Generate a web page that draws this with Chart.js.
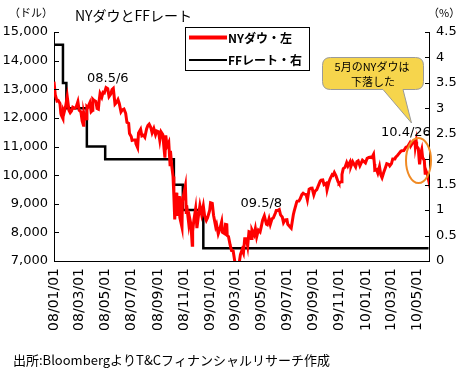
<!DOCTYPE html>
<html lang="ja">
<head>
<meta charset="UTF-8">
<title>NYダウとFFレート</title>
<script src="https://cdn.jsdelivr.net/npm/chart.js"></script>
<style>
  body { margin: 0; background: #fff; }
  #wrap { width: 461px; height: 375px; }
</style>
</head>
<body>
<div id="wrap"><canvas id="chart" width="461" height="375"></canvas></div>
<script>
// x axis ticks (every other month)
const tickDates = ['2008-01-01','2008-03-01','2008-05-01','2008-07-01','2008-09-01','2008-11-01',
  '2009-01-01','2009-03-01','2009-05-01','2009-07-01','2009-09-01','2009-11-01',
  '2010-01-01','2010-03-01','2010-05-01'];
const tickLabels = ['08/01/01','08/03/01','08/05/01','08/07/01','08/09/01','08/11/01',
  '09/01/01','09/03/01','09/05/01','09/07/01','09/09/01','09/11/01',
  '10/01/01','10/03/01','10/05/01'];

// NY Dow (USD)
const dowDates = [
  '2008-01-01','2008-01-04','2008-01-08','2008-01-11','2008-01-15','2008-01-17','2008-01-18','2008-01-22','2008-01-23','2008-01-25',
  '2008-01-28','2008-01-31','2008-02-01','2008-02-05','2008-02-08','2008-02-11','2008-02-14','2008-02-19','2008-02-22','2008-02-26',
  '2008-02-29','2008-03-04','2008-03-07','2008-03-10','2008-03-11','2008-03-14','2008-03-17','2008-03-18','2008-03-20','2008-03-25',
  '2008-03-28','2008-03-31','2008-04-01','2008-04-04','2008-04-08','2008-04-11','2008-04-14','2008-04-16','2008-04-18','2008-04-22',
  '2008-04-25','2008-04-28','2008-05-01','2008-05-02','2008-05-06','2008-05-09','2008-05-13','2008-05-16','2008-05-19','2008-05-23',
  '2008-05-27','2008-05-30','2008-06-02','2008-06-06','2008-06-09','2008-06-13','2008-06-17','2008-06-20','2008-06-24','2008-06-26',
  '2008-06-30','2008-07-02','2008-07-07','2008-07-10','2008-07-11','2008-07-15','2008-07-17','2008-07-18','2008-07-22','2008-07-25',
  '2008-07-29','2008-08-01','2008-08-05','2008-08-08','2008-08-11','2008-08-15','2008-08-18','2008-08-22','2008-08-26','2008-08-29',
  '2008-09-02','2008-09-05','2008-09-08','2008-09-12','2008-09-15','2008-09-17','2008-09-19','2008-09-22','2008-09-26','2008-09-29',
  '2008-09-30','2008-10-03','2008-10-06','2008-10-08','2008-10-10','2008-10-13','2008-10-15','2008-10-17','2008-10-20','2008-10-22',
  '2008-10-24','2008-10-27','2008-10-28','2008-10-31','2008-11-04','2008-11-06','2008-11-07','2008-11-12','2008-11-14','2008-11-17',
  '2008-11-20','2008-11-21','2008-11-24','2008-11-28','2008-12-01','2008-12-05','2008-12-08','2008-12-12','2008-12-16','2008-12-19',
  '2008-12-23','2008-12-26','2008-12-31','2009-01-02','2009-01-06','2009-01-09','2009-01-14','2009-01-16','2009-01-20','2009-01-23',
  '2009-01-28','2009-01-30','2009-02-04','2009-02-06','2009-02-09','2009-02-10','2009-02-13','2009-02-17','2009-02-20','2009-02-24',
  '2009-02-27','2009-03-02','2009-03-05','2009-03-09','2009-03-10','2009-03-13','2009-03-17','2009-03-20','2009-03-23','2009-03-27',
  '2009-03-30','2009-04-02','2009-04-03','2009-04-07','2009-04-09','2009-04-14','2009-04-17','2009-04-20','2009-04-24','2009-04-28',
  '2009-05-01','2009-05-04','2009-05-08','2009-05-13','2009-05-15','2009-05-19','2009-05-22','2009-05-26','2009-05-29','2009-06-03',
  '2009-06-05','2009-06-08','2009-06-12','2009-06-15','2009-06-19','2009-06-22','2009-06-26','2009-06-30','2009-07-02','2009-07-08',
  '2009-07-10','2009-07-15','2009-07-17','2009-07-23','2009-07-24','2009-07-28','2009-07-31','2009-08-04','2009-08-07','2009-08-10',
  '2009-08-14','2009-08-17','2009-08-21','2009-08-25','2009-08-28','2009-09-01','2009-09-04','2009-09-08','2009-09-11','2009-09-16',
  '2009-09-18','2009-09-22','2009-09-25','2009-09-30','2009-10-02','2009-10-06','2009-10-09','2009-10-14','2009-10-16','2009-10-19',
  '2009-10-23','2009-10-28','2009-10-30','2009-11-04','2009-11-06','2009-11-09','2009-11-13','2009-11-17','2009-11-20','2009-11-25',
  '2009-11-27','2009-12-01','2009-12-04','2009-12-08','2009-12-11','2009-12-14','2009-12-18','2009-12-24','2009-12-31','2010-01-04',
  '2010-01-08','2010-01-12','2010-01-15','2010-01-19','2010-01-21','2010-01-22','2010-01-26','2010-01-29','2010-02-02','2010-02-05',
  '2010-02-08','2010-02-12','2010-02-16','2010-02-19','2010-02-24','2010-02-26','2010-03-02','2010-03-05','2010-03-10','2010-03-12',
  '2010-03-16','2010-03-19','2010-03-24','2010-03-26','2010-03-31','2010-04-05','2010-04-09','2010-04-14','2010-04-16','2010-04-20',
  '2010-04-23','2010-04-26','2010-04-27','2010-04-29','2010-04-30','2010-05-04','2010-05-06','2010-05-07','2010-05-10','2010-05-12',
  '2010-05-14','2010-05-18','2010-05-20','2010-05-21','2010-05-24','2010-05-25','2010-05-26'
];
const dowValues = [
  13265,12800,12589,12606,12501,12159,12099,11971,12271,12207,
  12383,12650,12743,12265,12182,12240,12376,12337,12381,12570,
  12266,12213,11894,11740,12156,11951,11972,12392,12361,12533,
  12216,12263,12654,12609,12577,12325,12302,12620,12849,12721,
  12891,12871,13010,13058,13020,12745,12833,12986,13028,12480,
  12548,12638,12503,12209,12280,12307,12160,11843,11807,11453,
  11350,11215,11231,11229,11100,10962,11446,11496,11602,11370,
  11397,11326,11616,11734,11782,11659,11479,11628,11413,11543,
  11516,11220,11511,11421,10917,10609,11388,11015,11143,10365,
  10851,10325,9955,9258,8451,9387,8578,8852,9265,8519,
  8378,8175,9065,9325,9625,8695,8943,8283,8497,8273,
  7552,8046,8443,8829,8149,8635,8934,8629,8924,8579,
  8419,8515,8776,9034,9015,8599,8200,8281,7949,8077,
  8375,8000,7956,8280,8270,7888,7850,7552,7366,7351,
  7063,6763,6594,6547,6926,7224,7395,7279,7776,7776,
  7522,8025,8018,7789,8083,7920,8131,7841,8076,8016,
  8212,8426,8575,8284,8268,8474,8277,8473,8500,8675,
  8764,8764,8799,8612,8539,8339,8438,8447,8280,8179,
  8146,8616,8743,9069,9093,9096,9171,9320,9370,9337,
  9321,9135,9505,9539,9544,9310,9441,9497,9605,9791,
  9820,9829,9665,9712,9487,9731,9865,10015,9995,10092,
  9972,9762,9713,9771,10023,10227,10270,10437,10318,10464,
  10309,10471,10388,10286,10471,10501,10329,10520,10428,10584,
  10618,10628,10610,10725,10389,10173,10195,10067,10297,10012,
  9908,10099,10268,10402,10374,10325,10405,10566,10567,10625,
  10685,10742,10836,10851,10857,10974,10997,11123,11019,11117,
  11204,11205,10991,11167,11009,10926,10520,10380,10785,10896,
  10620,10510,10068,10193,10066,10043,9974
];

// FF rate target (%), changes
const ffDates = ['2008-01-01','2008-01-22','2008-01-30','2008-03-18','2008-04-30','2008-10-08','2008-10-29','2008-12-16','2010-05-28'];
const ffValues = [4.25, 3.5, 3.0, 2.25, 2.0, 1.5, 1.0, 0.25, 0.25];

const startMs = Date.parse('2008-01-01T00:00:00Z');
function dayOf(s) {
  return Math.round((Date.parse(s + 'T00:00:00Z') - startMs) / 864e5);
}

const tickDays = tickDates.map(dayOf);
const dowPoints = dowDates.map((d, i) => ({ x: dayOf(d), y: dowValues[i] }));
const ffPoints = ffDates.map((d, i) => ({ x: dayOf(d), y: ffValues[i] }));

const jpFont = '"Noto Sans CJK JP", "DejaVu Sans", sans-serif';
const numFont = '"DejaVu Sans", sans-serif';

// inward tick marks on both value axes
const innerTicks = {
  id: 'innerTicks',
  afterDraw(chart) {
    const ctx = chart.ctx;
    const area = chart.chartArea;
    ctx.save();
    ctx.strokeStyle = '#000';
    ctx.lineWidth = 1;
    chart.scales.y.ticks.forEach(t => {
      const y = Math.round(chart.scales.y.getPixelForValue(t.value)) + 0.5;
      ctx.beginPath(); ctx.moveTo(area.left, y); ctx.lineTo(area.left + 5, y); ctx.stroke();
    });
    chart.scales.y1.ticks.forEach(t => {
      const y = Math.round(chart.scales.y1.getPixelForValue(t.value)) + 0.5;
      ctx.beginPath(); ctx.moveTo(area.right - 4, y); ctx.lineTo(area.right, y); ctx.stroke();
    });
    ctx.restore();
  }
};

// titles, legend box, notes and callout
const decorations = {
  id: 'decorations',
  afterDraw(chart) {
    const ctx = chart.ctx;
    const xs = chart.scales.x, ys = chart.scales.y;
    ctx.save();
    ctx.fillStyle = '#000';
    ctx.textBaseline = 'middle';

    ctx.font = '14px ' + jpFont;
    ctx.textAlign = 'left';
    ctx.fillText('NYダウとFFレート', 75, 16);
    ctx.font = '11px ' + jpFont;
    ctx.fillText('（ドル）', 9, 13);
    ctx.fillText('（%）', 428, 13);

    ctx.font = '13px ' + jpFont;
    ctx.fillText('出所:BloombergよりT&Cフィナンシャルリサーチ作成', 13, 360);

    // legend
    ctx.fillStyle = '#fff';
    ctx.fillRect(185.5, 27.5, 124, 43);
    ctx.strokeStyle = '#000';
    ctx.lineWidth = 1;
    ctx.strokeRect(185.5, 27.5, 124, 43);
    ctx.strokeStyle = '#ff0000';
    ctx.lineWidth = 4;
    ctx.beginPath(); ctx.moveTo(189, 37.5); ctx.lineTo(227, 37.5); ctx.stroke();
    ctx.strokeStyle = '#000';
    ctx.lineWidth = 2;
    ctx.beginPath(); ctx.moveTo(189, 60); ctx.lineTo(227, 60); ctx.stroke();
    ctx.fillStyle = '#000';
    ctx.font = 'bold 12px ' + jpFont;
    ctx.fillText('NYダウ・左', 228, 38);
    ctx.fillText('FFレート・右', 228, 60);

    // point notes
    ctx.font = '13px ' + numFont;
    ctx.textAlign = 'center';
    ctx.fillText('08.5/6', xs.getPixelForValue(dayOf('2008-05-06')), ys.getPixelForValue(13020) - 10);
    ctx.fillText('09.5/8', xs.getPixelForValue(dayOf('2009-05-08')) - 3, ys.getPixelForValue(8575) - 12);
    ctx.fillText('10.4/26', xs.getPixelForValue(dayOf('2010-04-26')) - 9, ys.getPixelForValue(11205) - 8);

    // orange ellipse around May 2010
    ctx.strokeStyle = '#f08a24';
    ctx.lineWidth = 2;
    ctx.beginPath();
    ctx.ellipse(418.5, 160.5, 12.5, 22.5, 0, 0, Math.PI * 2);
    ctx.stroke();

    // callout
    ctx.fillStyle = '#f6d54c';
    ctx.strokeStyle = '#9a9a9a';
    ctx.lineWidth = 1;
    const l = 322.5, t = 57.5, r = 423.5, b = 89.5, rad = 8;
    ctx.beginPath();
    ctx.moveTo(l + rad, t);
    ctx.lineTo(r - rad, t);
    ctx.quadraticCurveTo(r, t, r, t + rad);
    ctx.lineTo(r, b - rad);
    ctx.quadraticCurveTo(r, b, r - rad, b);
    ctx.lineTo(403, b);
    ctx.lineTo(411.5, 123);
    ctx.lineTo(383, b);
    ctx.lineTo(l + rad, b);
    ctx.quadraticCurveTo(l, b, l, b - rad);
    ctx.lineTo(l, t + rad);
    ctx.quadraticCurveTo(l, t, l + rad, t);
    ctx.closePath();
    ctx.fill();
    ctx.stroke();
    ctx.fillStyle = '#000';
    ctx.font = '11px ' + jpFont;
    ctx.fillText('5月のNYダウは', 372, 67);
    ctx.fillText('下落した', 373, 82);
    ctx.restore();
  }
};

new Chart(document.getElementById('chart'), {
  type: 'line',
  data: {
    datasets: [
      {
        label: 'NYダウ・左',
        data: dowPoints,
        yAxisID: 'y',
        borderColor: '#ff0000',
        borderWidth: 3,
        pointRadius: 0,
        tension: 0
      },
      {
        label: 'FFレート・右',
        data: ffPoints,
        yAxisID: 'y1',
        borderColor: '#000',
        borderWidth: 2.5,
        pointRadius: 0,
        stepped: 'before'
      }
    ]
  },
  options: {
    responsive: false,
    devicePixelRatio: 1,
    animation: false,
    layout: { padding: { top: 32, left: 0, right: 0, bottom: 0 } },
    plugins: { legend: { display: false }, tooltip: { enabled: false } },
    scales: {
      x: {
        type: 'linear',
        min: 0,
        max: 879,
        afterBuildTicks: s => { s.ticks = tickDays.map(v => ({ value: v })); },
        afterFit: s => { s.height = 114; },
        ticks: {
          autoSkip: false,
          minRotation: 90,
          maxRotation: 90,
          padding: 7,
          color: '#000',
          font: { family: numFont, size: 14 },
          callback: (v, i) => tickLabels[i]
        },
        grid: { display: false, drawTicks: false },
        border: { display: true, color: '#000', width: 1 }
      },
      y: {
        position: 'left',
        min: 7000,
        max: 15000,
        afterFit: s => { s.width = 54; },
        ticks: {
          stepSize: 1000,
          padding: 6,
          color: '#000',
          font: { family: numFont, size: 13 },
          callback: v => v.toLocaleString('en-US')
        },
        grid: { display: false, drawTicks: false },
        border: { display: true, color: '#000', width: 1 }
      },
      y1: {
        position: 'right',
        min: 0,
        max: 4.5,
        afterFit: s => { s.width = 32; },
        ticks: {
          stepSize: 0.5,
          padding: 7,
          color: '#000',
          font: { family: numFont, size: 13 },
          callback: v => String(v)
        },
        grid: { display: false, drawTicks: false },
        border: { display: true, color: '#000', width: 1 }
      }
    }
  },
  plugins: [innerTicks, decorations]
});
</script>
</body>
</html>
